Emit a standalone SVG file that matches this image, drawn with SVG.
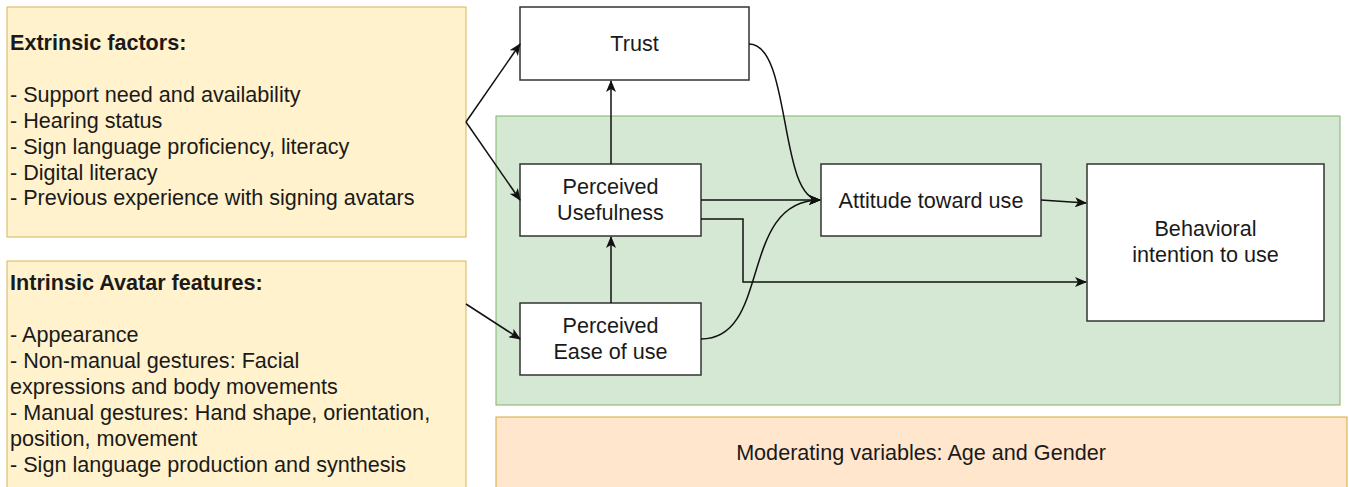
<svg xmlns="http://www.w3.org/2000/svg" width="1349" height="487" viewBox="0 0 1349 487">
<defs>
<marker id="arr" viewBox="0 0 12 10" refX="11" refY="5" markerWidth="12" markerHeight="10" markerUnits="userSpaceOnUse" orient="auto">
<path d="M0,0 L12,5 L0,10 L3,5 z" fill="#111"/>
</marker>
<style>
text{font-family:"Liberation Sans",Arial,sans-serif;font-size:21.6px;fill:#1a1a1a}
.b{font-weight:bold}
.c{text-anchor:middle}
.node{fill:#fff;stroke:#333;stroke-width:1.5}
.yel{fill:#fff2cc;stroke:#d6b656;stroke-width:1}
.grn{fill:#d5e8d4;stroke:#82b366;stroke-width:1}
.org{fill:#ffe6cc;stroke:#d7a83a;stroke-width:1}
.e{fill:none;stroke:#111;stroke-width:1.5;marker-end:url(#arr)}
</style>
</defs>
<rect width="1349" height="487" fill="#fff"/>
<g id="extrinsic">
<rect class="yel" x="7" y="7" width="459" height="230"/>
<text class="b" x="10" y="50">Extrinsic factors:</text>
<text x="10" y="102">- Support need and availability</text>
<text x="10" y="128">- Hearing status</text>
<text x="10" y="153.5">- Sign language proficiency, literacy</text>
<text x="10" y="179.5">- Digital literacy</text>
<text x="10" y="205">- Previous experience with signing avatars</text>
</g>
<g id="intrinsic">
<rect class="yel" x="7" y="261" width="459" height="240"/>
<text class="b" x="10" y="290">Intrinsic Avatar features:</text>
<text x="10" y="342">- Appearance</text>
<text x="10" y="368">- Non-manual gestures: Facial</text>
<text x="10" y="394">expressions and body movements</text>
<text x="10" y="420">- Manual gestures: Hand shape, orientation,</text>
<text x="10" y="446">position, movement</text>
<text x="10" y="472">- Sign language production and synthesis</text>
</g>
<g id="tam">
<rect class="grn" x="496" y="116" width="844" height="289"/>
</g>
<g id="moderating">
<rect class="org" x="496" y="417" width="851" height="80"/>
<text class="c" x="921" y="460">Moderating variables: Age and Gender</text>
</g>
<g id="trust">
<rect class="node" x="520" y="7" width="229" height="73"/>
<text class="c" x="634.5" y="51">Trust</text>
</g>
<g id="pu">
<rect class="node" x="520" y="164" width="181" height="72"/>
<text class="c" x="610.5" y="194">Perceived</text>
<text class="c" x="610.5" y="220">Usefulness</text>
</g>
<g id="peou">
<rect class="node" x="520" y="303" width="181" height="72"/>
<text class="c" x="610.5" y="333">Perceived</text>
<text class="c" x="610.5" y="359">Ease of use</text>
</g>
<g id="attitude">
<rect class="node" x="821" y="164" width="220" height="72"/>
<text class="c" x="931" y="207.5">Attitude toward use</text>
</g>
<g id="bi">
<rect class="node" x="1087" y="164" width="237" height="157"/>
<text class="c" x="1205.5" y="236">Behavioral</text>
<text class="c" x="1205.5" y="262">intention to use</text>
</g>
<g id="connectors">
<path class="e" d="M466,122 L520,44"/>
<path class="e" d="M466,122 L520,200"/>
<path class="e" d="M466,304 L520,339"/>
<path class="e" d="M611,164 L611,81"/>
<path class="e" d="M611,303 L611,237"/>
<path class="e" d="M701,200 L820,200"/>
<path class="e" d="M749,44 C792,44 778,200 820,200"/>
<path class="e" d="M701,339 C772,339 738,200 820,200"/>
<path class="e" d="M701,219 L743,219 L743,282 L1086,282"/>
<path class="e" d="M1041,200 L1086,203"/>
</g>
</svg>
